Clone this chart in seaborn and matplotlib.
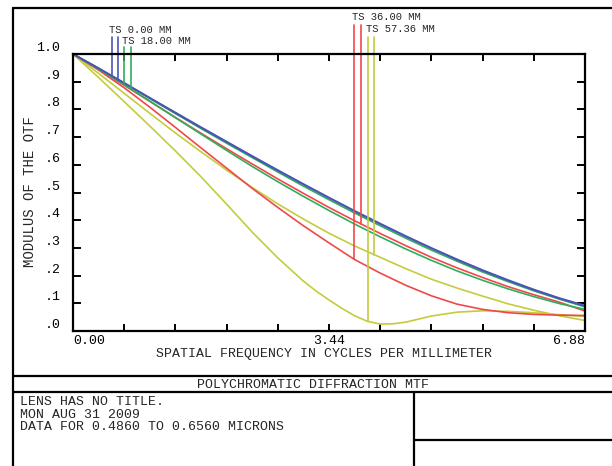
import numpy as np
import pandas as pd
import matplotlib
matplotlib.use("Agg")
import matplotlib.pyplot as plt
import seaborn as sns
from matplotlib.lines import Line2D

# ---------------- data ----------------
freq = [0.0, 0.344, 0.688, 1.032, 1.376, 1.72, 2.064, 2.408, 2.752, 3.096, 3.44,
        3.784, 4.128, 4.472, 4.816, 5.16, 5.504, 5.848, 6.192, 6.536, 6.88]
blue_t = [1.0, .949, .896, .842, .789, .736, .684, .632, .581, .531, .482,
          .434, .388, .343, .300, .259, .220, .184, .150, .119, .092]
blue_s = [1.0, .948, .895, .841, .787, .734, .682, .630, .579, .529, .480,
          .432, .386, .341, .298, .257, .218, .182, .148, .117, .090]
green_t = [1.0, .948, .894, .839, .785, .731, .678, .626, .574, .523, .474,
           .426, .380, .335, .292, .252, .213, .178, .145, .115, .087]
green_s = [1.0, .946, .889, .830, .770, .711, .652, .594, .539, .486, .435,
           .386, .340, .296, .255, .217, .183, .152, .124, .099, .078]
red_t = [1.0, .942, .878, .808, .735, .661, .588, .515, .446, .380, .318,
         .258, .209, .165, .127, .097, .078, .066, .060, .057, .056]
red_s = [1.0, .945, .887, .829, .771, .714, .658, .603, .549, .497, .446,
         .398, .352, .308, .266, .228, .193, .160, .131, .104, .072]
yellow_s = [1.0, .930, .858, .786, .715, .647, .581, .518, .459, .404, .353,
            .307, .266, .225, .187, .155, .126, .098, .075, .055, .038]
freq_dip = [0.0, 0.344, 0.688, 1.032, 1.376, 1.72, 2.064, 2.408, 2.752, 3.096,
            3.268, 3.44, 3.612, 3.784, 3.956, 4.128, 4.3, 4.472, 4.644, 4.816,
            5.16, 5.504, 5.848, 6.192, 6.536, 6.88]
yellow_t = [1.0, .915, .828, .740, .650, .557, .458, .357, .264, .180,
            .144, .112, .082, .055, .035, .025, .026, .032, .043, .054,
            .068, .073, .071, .066, .059, .053]

fields = ["TS 0.00 MM", "TS 18.00 MM", "TS 36.00 MM", "TS 57.36 MM"]
field_colors = ["#4b55b4", "#2eae5a", "#f0484a", "#c4cc3c"]
legend_freq = [[0.52, 0.61], [0.69, 0.78], [3.78, 3.87], [3.96, 4.045]]

x_ticks = [0.0, 0.688, 1.376, 2.064, 2.752, 3.44, 4.128, 4.816, 5.504, 6.192, 6.88]
x_tick_labels = ["0.00", "", "", "", "", "3.44", "", "", "", "", "6.88"]
y_ticks = [0.0, 0.1, 0.2, 0.3, 0.4, 0.5, 0.6, 0.7, 0.8, 0.9, 1.0]
y_tick_labels = [".0", ".1", ".2", ".3", ".4", ".5", ".6", ".7", ".8", ".9", "1.0"]

curves = {
    "yellow_t": (freq_dip, yellow_t, 3),
    "yellow_s": (freq, yellow_s, 3),
    "red_t": (freq, red_t, 2),
    "red_s": (freq, red_s, 2),
    "green_t": (freq, green_t, 1),
    "green_s": (freq, green_s, 1),
    "blue_s": (freq, blue_s, 0),
    "blue_t": (freq, blue_t, 0),
}
rows = []
for name, (xs, ys, fi) in curves.items():
    for xv, yv in zip(xs, ys):
        rows.append({"freq": xv, "mtf": yv, "curve": name})
df = pd.DataFrame(rows)
palette = {name: field_colors[fi] for name, (_, _, fi) in curves.items()}

# ---------------- figure ----------------
sns.set_style("white")
plt.rcParams["font.family"] = ["Liberation Mono", "DejaVu Sans Mono"]
FS = 9.5
W, H = 612, 466
fig = plt.figure(figsize=(W / 100, H / 100), dpi=100)
ax = fig.add_axes([73 / W, 1 - 331 / H, 512 / W, 277 / H])

sns.lineplot(data=df, x="freq", y="mtf", hue="curve", palette=palette,
             hue_order=list(curves.keys()), estimator=None, sort=False,
             legend=False, linewidth=1.2, ax=ax)

ax.set_xlim(0, 6.88)
ax.set_ylim(0, 1.0)
ax.set_xlabel("")
ax.set_ylabel("")
for sp in ax.spines.values():
    sp.set_color("black")
    sp.set_linewidth(1.6)

ax.set_xticks(x_ticks)
ax.set_xticklabels(x_tick_labels, fontsize=FS)
ax.set_yticks(y_ticks)
ax.set_yticklabels(y_tick_labels, fontsize=FS)
ax.tick_params(axis="x", direction="in", length=5, width=1.4, top=True,
               bottom=True, pad=3, colors="black")
ax.tick_params(axis="y", direction="in", length=6, width=1.4, left=True,
               right=True, pad=9, colors="black")
xl = ax.get_xticklabels()
xl[0].set_ha("left")
xl[-1].set_ha("right")
for lab in ax.get_yticklabels():
    lab.set_va("bottom")

# legend: field labels with drop lines to the curves
curve_pairs = [("blue_t", "blue_s"), ("green_t", "green_s"),
               ("red_t", "red_s"), ("yellow_t", "yellow_s")]
label_pos = [(0.484, 1.087), (0.658, 1.047), (3.749, 1.132), (3.937, 1.090)]
line_top = [1.061, 1.025, 1.105, 1.061]
for i, name in enumerate(fields):
    lx, ly = label_pos[i]
    ax.text(lx, ly, name, fontsize=7.6, ha="left", va="center", clip_on=False)
    for fx, cname in zip(legend_freq[i], curve_pairs[i]):
        xs, ys, _ = curves[cname]
        yb = float(np.interp(fx, xs, ys))
        ax.plot([fx, fx], [line_top[i], yb], color=field_colors[i], lw=1.2,
                clip_on=False)

# axis titles
fig.text(324 / W, 1 - 354.5 / H, "SPATIAL FREQUENCY IN CYCLES PER MILLIMETER",
         ha="center", va="center", fontsize=FS)
fig.text(30 / W, 1 - 192 / H, "MODULUS OF THE OTF", rotation=90,
         ha="center", va="center", fontsize=FS + 0.5)

# frame / title block
def fl(x0, y0, x1, y1):
    fig.add_artist(Line2D([x0 / W, x1 / W], [1 - y0 / H, 1 - y1 / H],
                          transform=fig.transFigure, color="black", lw=1.6))

fl(13, 8, 13, 466)
fl(13, 8, 612, 8)
fl(13, 376, 612, 376)
fl(13, 392, 612, 392)
fl(414, 392, 414, 466)
fl(414, 440, 612, 440)

fig.text(313 / W, 1 - 384.5 / H, "POLYCHROMATIC DIFFRACTION MTF",
         ha="center", va="center", fontsize=FS)
block_lines = ["LENS HAS NO TITLE.", "MON AUG 31 2009",
               "DATA FOR 0.4860 TO 0.6560 MICRONS"]
fig.text(20 / W, 1 - 396 / H, "\n".join(block_lines), ha="left", va="top",
         fontsize=FS, linespacing=1.08)

fig.savefig("out.png", dpi=100)
